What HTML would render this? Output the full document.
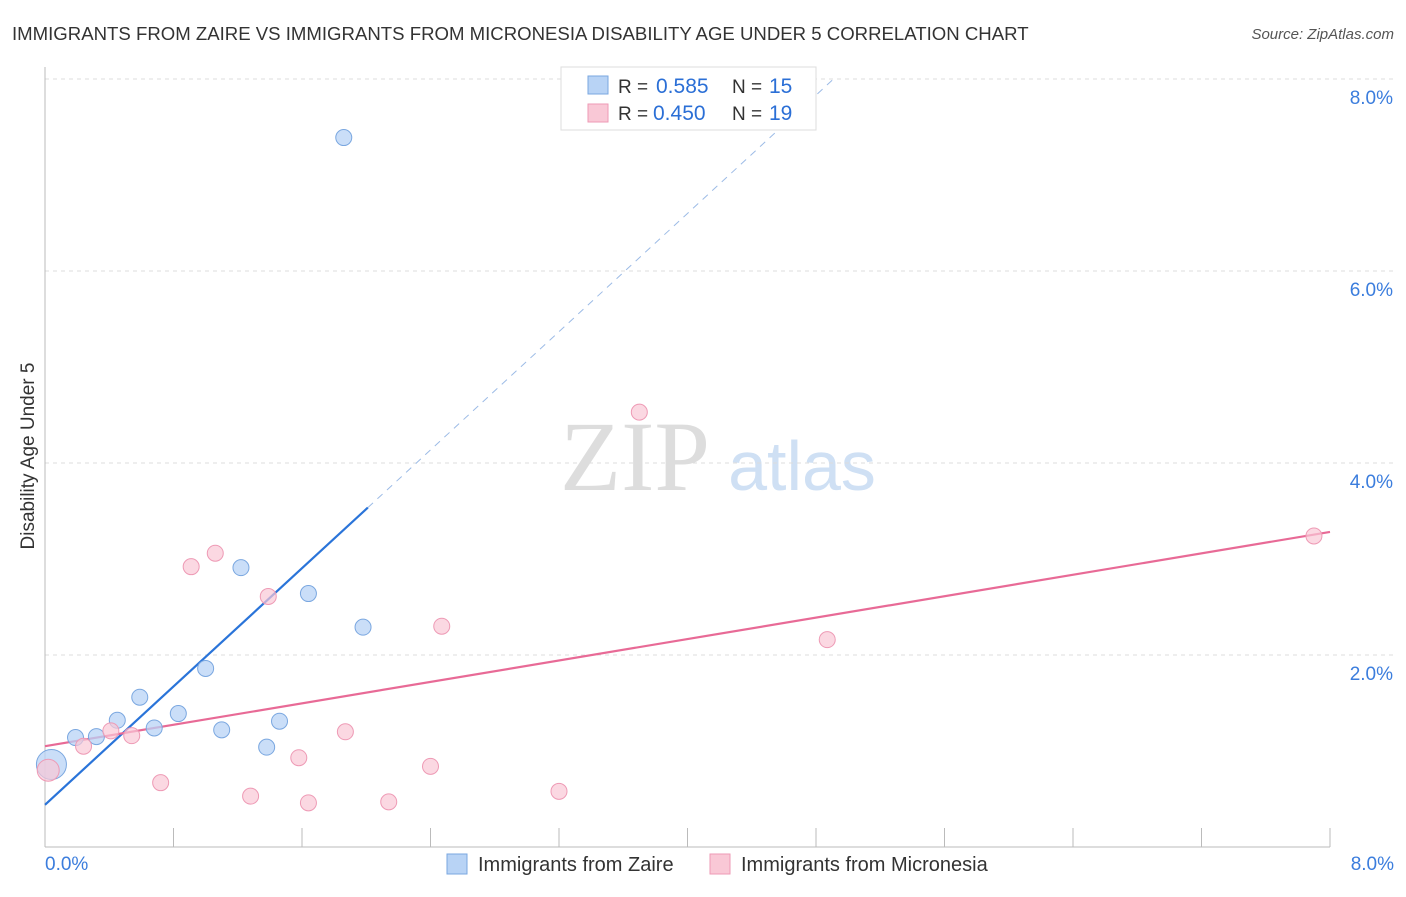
<!DOCTYPE html>
<html><head><meta charset="utf-8"><style>
body{margin:0;background:#fff;font-family:"Liberation Sans",sans-serif;}
svg text{font-family:"Liberation Sans",sans-serif;}
</style></head><body>
<svg width="1406" height="892" id="chart">
<text x="12" y="40" font-size="18.6" fill="#333">IMMIGRANTS FROM ZAIRE VS IMMIGRANTS FROM MICRONESIA DISABILITY AGE UNDER 5 CORRELATION CHART</text>
<text x="1394" y="39" font-size="15" fill="#555" text-anchor="end" font-style="italic">Source: ZipAtlas.com</text>
<text x="34" y="456" font-size="19" fill="#333" transform="rotate(-90 34 456)" text-anchor="middle">Disability Age Under 5</text>
<g>
<text x="635" y="490" font-size="100" fill="#ddd" text-anchor="middle" style="font-family:'Liberation Serif',serif">ZIP</text>
<text x="802" y="490" font-size="70" fill="#cfe0f4" text-anchor="middle">atlas</text>
</g>
<g id="grid"></g><g id="axes"></g><g id="lines"></g><g id="pts"></g>
<g>
<rect x="561" y="67" width="255" height="63" fill="#fff" stroke="#ddd"/>
<rect x="588" y="76" width="20" height="18" fill="#b8d3f5" stroke="#7aa7e0"/>
<text x="618" y="93" font-size="19" fill="#333">R =</text>
<text x="656" y="93" font-size="21" fill="#2b6fd6">0.585</text>
<text x="732" y="93" font-size="19" fill="#333">N =</text>
<text x="769" y="93" font-size="21" fill="#2b6fd6">15</text>
<rect x="588" y="104" width="20" height="18" fill="#f9c8d6" stroke="#ee9ab5"/>
<text x="618" y="120" font-size="19" fill="#333">R =</text>
<text x="653" y="120" font-size="21" fill="#2b6fd6">0.450</text>
<text x="732" y="120" font-size="19" fill="#333">N =</text>
<text x="769" y="120" font-size="21" fill="#2b6fd6">19</text>
</g>
<g>
<rect x="447" y="854" width="20" height="20" fill="#b8d3f5" stroke="#7aa7e0"/>
<text x="478" y="871" font-size="20" fill="#333">Immigrants from Zaire</text>
<rect x="710" y="854" width="20" height="20" fill="#f9c8d6" stroke="#ee9ab5"/>
<text x="741" y="871" font-size="20" fill="#333">Immigrants from Micronesia</text>
</g>
</svg>
<script>
const zaireX=[0.04,0.19,0.32,0.45,0.59,0.68,0.83,1.00,1.10,1.22,1.38,1.46,1.64,1.86,1.98];
const zaireY=[0.86,1.14,1.15,1.32,1.56,1.24,1.39,1.86,1.22,2.91,1.04,1.31,2.64,7.39,2.29];
const micX=[0.02,0.24,0.41,0.54,0.72,0.91,1.06,1.28,1.39,1.58,1.64,1.87,2.14,2.40,2.47,3.20,3.70,4.87,7.90];
const micY=[0.80,1.05,1.21,1.16,0.67,2.92,3.06,0.53,2.61,0.93,0.46,1.20,0.47,0.84,2.30,0.58,4.53,2.16,3.24];
const yTicks=[2,4,6,8];
const yTickLabels=["2.0%","4.0%","6.0%","8.0%"];
const zaireTrend=[0.44,1.54];
const micTrend=[1.05,0.279];
const NS="http://www.w3.org/2000/svg";
const sx=v=>45+v/8*1285, sy=v=>847-v*96;
function mk(t,a,p){const e=document.createElementNS(NS,t);for(const k in a)e.setAttribute(k,a[k]);document.getElementById(p).appendChild(e);return e;}
yTicks.forEach((t,i)=>{
 const l=mk('line',{x1:45,x2:1394,y1:sy(t),y2:sy(t),stroke:'#ddd','stroke-dasharray':'4,4'},'grid');
 
 
 const tx=mk('text',{x:1393,y:sy(t)+25,'font-size':19,fill:'#3b7ddd','text-anchor':'end'},'grid');
 tx.textContent=yTickLabels[i];
 
 
});
const ax=mk('line',{x1:45,x2:45,y1:67,y2:847,stroke:'#bbb'},'axes');


const bx=mk('line',{x1:45,x2:1330,y1:847,y2:847,stroke:'#bbb'},'axes');


for(let i=0;i<=10;i++){const t=mk('line',{x1:sx(i*0.8),x2:sx(i*0.8),y1:828,y2:847,stroke:'#bbb'},'axes');
 
 }
[["0.0%",45,'start'],["8.0%",1394,'end']].forEach(([s,x,a])=>{const t=mk('text',{x:x,y:870,'font-size':19,fill:'#3b7ddd','text-anchor':a},'axes');t.textContent=s;
 
 });
const zx2=2.01;
let l1=mk('line',{x1:sx(0),y1:sy(zaireTrend[0]),x2:sx(zx2),y2:sy(zaireTrend[0]+zaireTrend[1]*zx2),stroke:'#2a74d9','stroke-width':2.2},'lines');


const zx3=(8.0-zaireTrend[0])/zaireTrend[1];
let l2=mk('line',{x1:sx(zx2),y1:sy(zaireTrend[0]+zaireTrend[1]*zx2),x2:sx(zx3),y2:sy(8.0),stroke:'#9cbbe6','stroke-width':1,'stroke-dasharray':'7,6'},'lines');


let l3=mk('line',{x1:sx(0),y1:sy(micTrend[0]),x2:sx(8),y2:sy(micTrend[0]+micTrend[1]*8),stroke:'#e86a96','stroke-width':2.2},'lines');


zaireX.forEach((x,i)=>{const c=mk('circle',{cx:sx(x),cy:sy(zaireY[i]),r:i==0?15:8,fill:'#b8d3f5','fill-opacity':0.75,stroke:'#7aa7e0'},'pts');
 
 });
micX.forEach((x,i)=>{const c=mk('circle',{cx:sx(x),cy:sy(micY[i]),r:i==0?11:8,fill:'#f9c8d6','fill-opacity':0.7,stroke:'#ee9ab5'},'pts');
 
 });
</script>
</body></html>
